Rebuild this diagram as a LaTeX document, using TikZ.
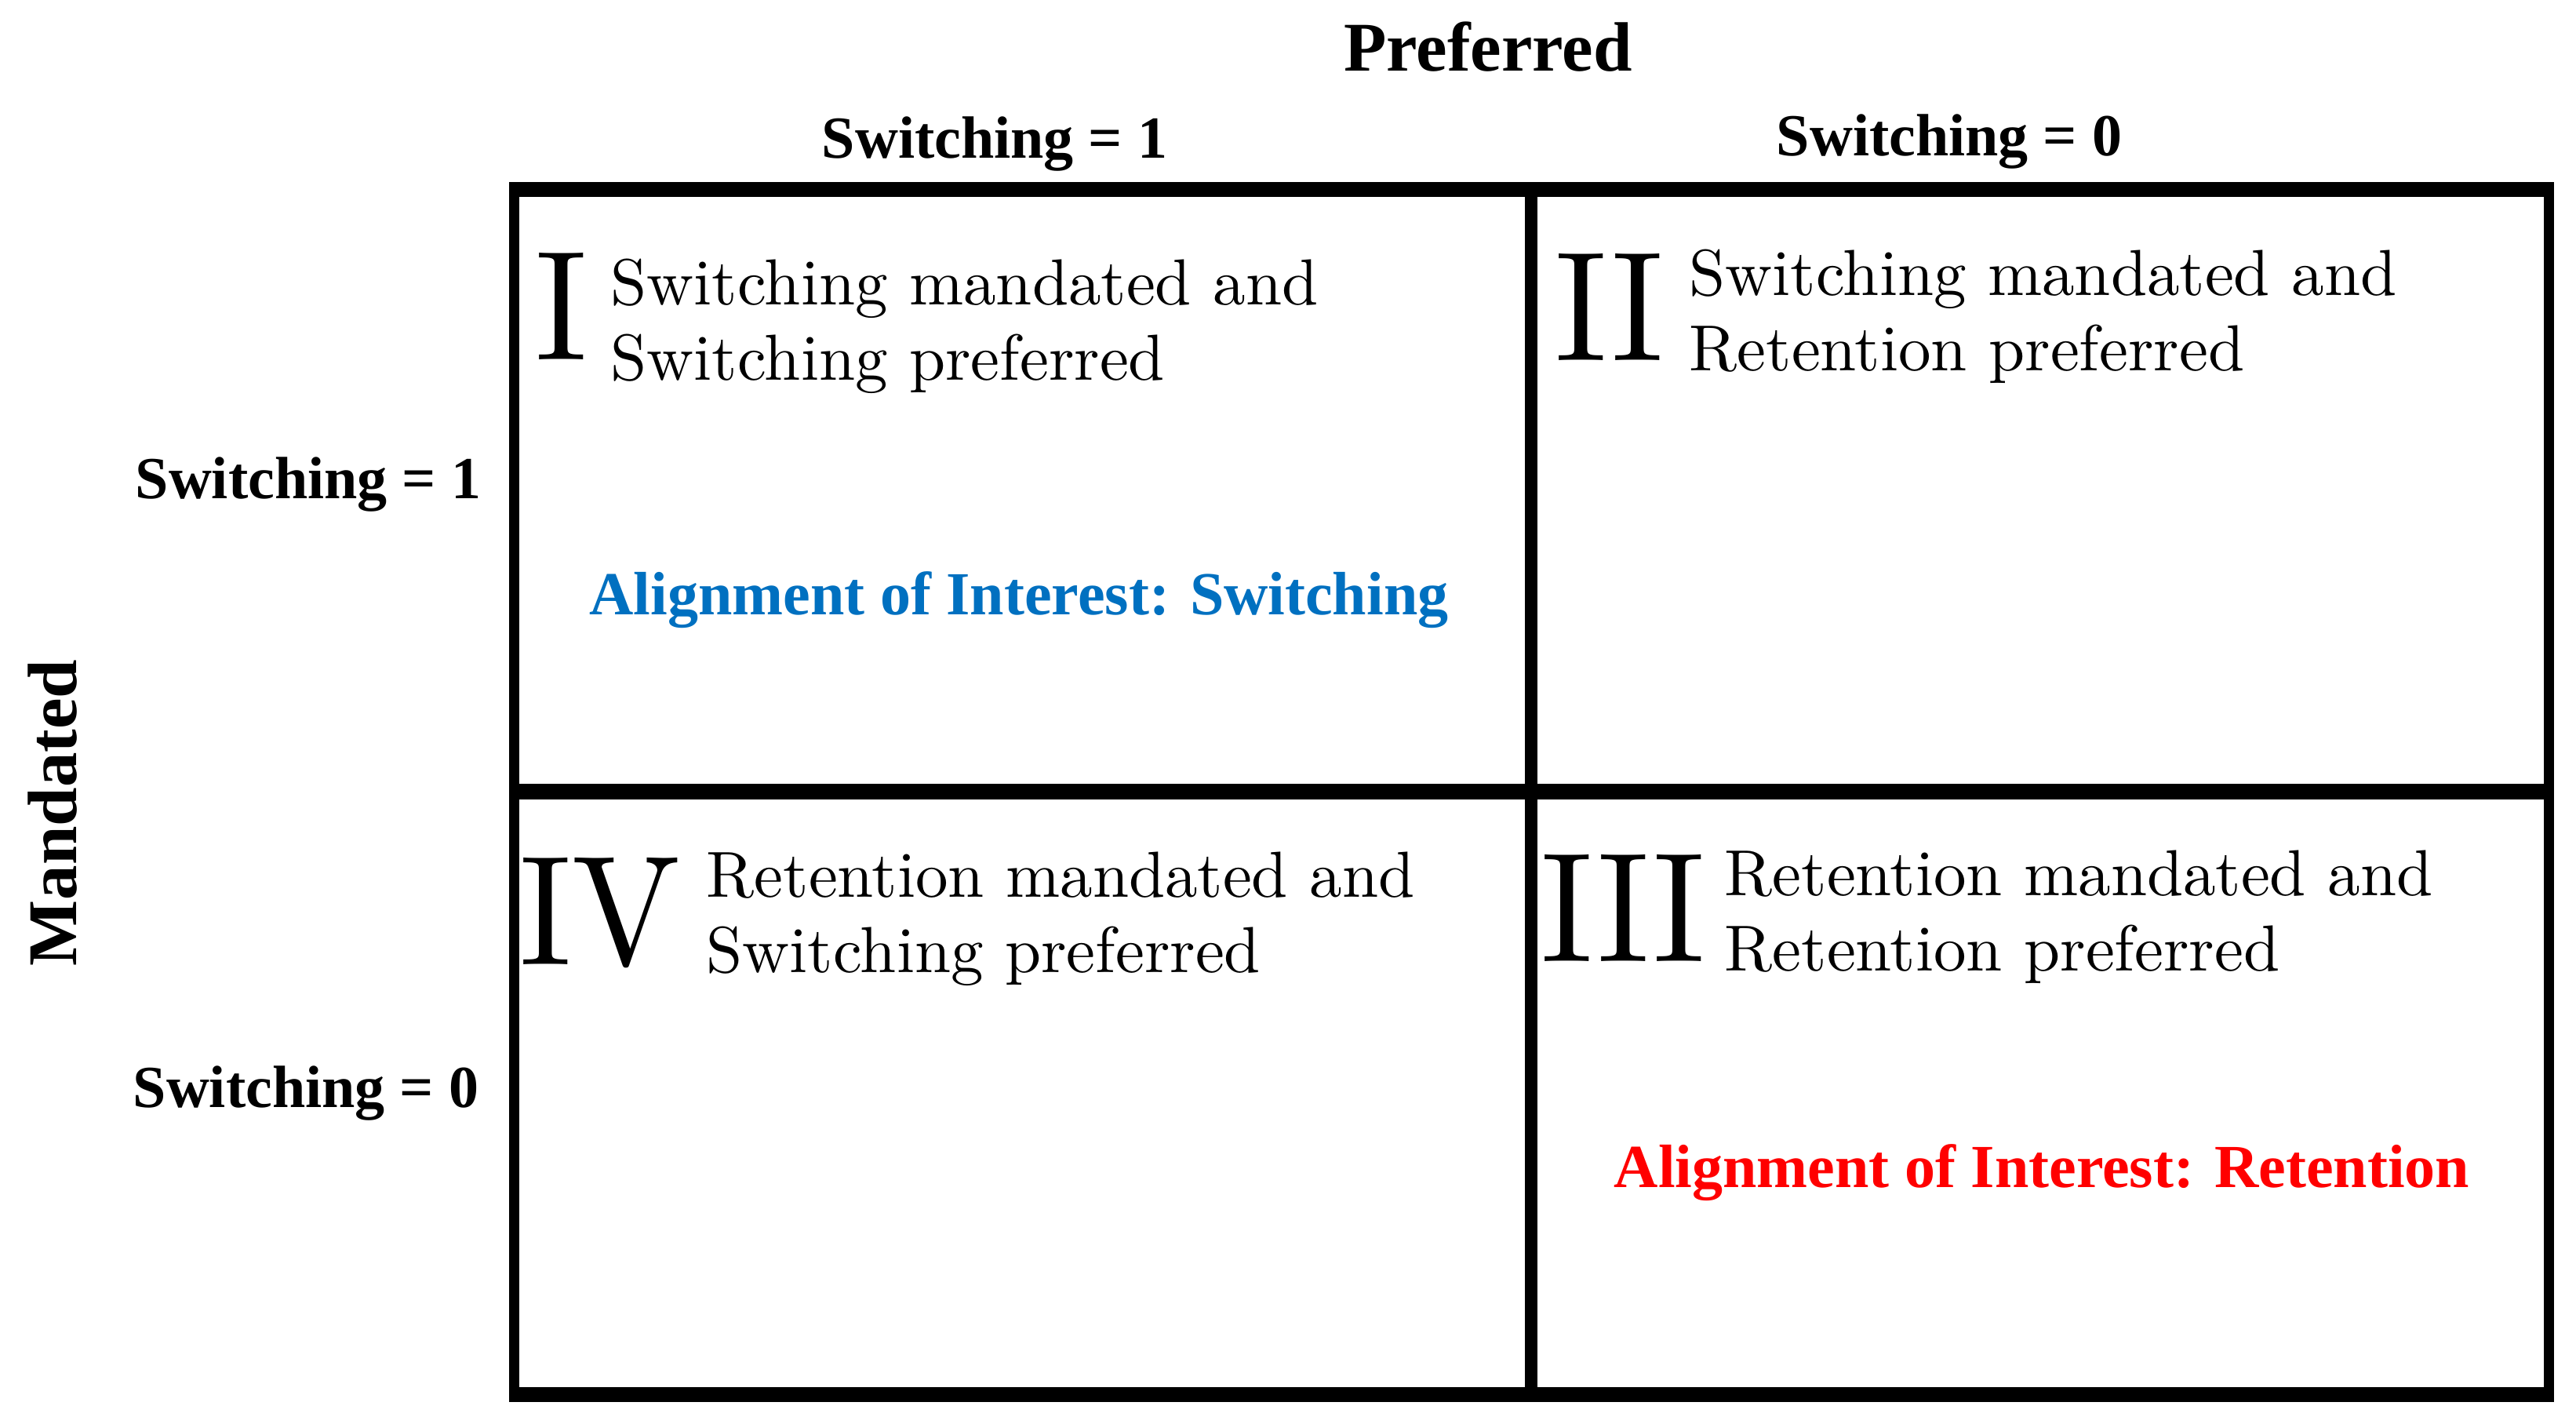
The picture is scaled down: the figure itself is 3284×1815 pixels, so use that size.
\documentclass[tikz,border=0pt]{standalone}
\usepackage{fontspec}
\usepackage{graphicx}
\newfontfamily\timesfont{Liberation Serif}
\definecolor{alignblue}{HTML}{0070C0}
\definecolor{alignred}{HTML}{FF0000}
\newcommand{\mycell}[2]{\scalebox{2.075}{\fontsize{10}{11.45}\selectfont\begin{tabular}[t]{@{}l@{}}#1\\#2\end{tabular}}}
\newcommand{\mynum}[1]{\scalebox{4.6}[4.98]{\fontsize{10}{12}\selectfont #1}}
\tikzset{
  gridline/.style={fill=black},
  hdr/.style={font=\timesfont\bfseries\fontsize{19}{22}\selectfont, inner sep=0pt, anchor=base},
  bighdr/.style={font=\timesfont\bfseries\fontsize{22.25}{26}\selectfont, inner sep=0pt, anchor=base},
  numeral/.style={inner sep=0pt, anchor=base west},
  celltext/.style={inner sep=0pt, anchor=base west},
  aligntext/.style={font=\timesfont\bfseries\fontsize{19.5}{23}\selectfont, inner sep=0pt, anchor=base},
}
\begin{document}
\begin{tikzpicture}[x=0.25pt,y=-0.25pt]
\useasboundingbox (0,0) rectangle (3284,1815);
% grid
\fill[gridline] (649.3,231.7) rectangle (3255.7,250.7);
\fill[gridline] (649.3,1768.3) rectangle (3255.7,1787.3);
\fill[gridline] (649.3,231.7) rectangle (661.7,1787.3);
\fill[gridline] (3242.7,231.7) rectangle (3255.7,1787.3);
\fill[gridline] (1944.3,231.7) rectangle (1960,1787.3);
\fill[gridline] (649.3,999.3) rectangle (3255.7,1018.7);
% headers
\node[bighdr] (pref) at (1897,91) {Preferred};
\node[hdr] (colA) at (1268,202) {Switching = 1};
\node[hdr] (colB) at (2485,199) {Switching = 0};
\node[bighdr, rotate=90] (mand) at (97,1036) {Mandated};
\node[hdr] (rowA) at (393,636) {Switching = 1};
\node[hdr] (rowB) at (390,1411) {Switching = 0};
% cells
\node[numeral] (nI) at (682,459) {\mynum{I}};
\node[celltext] (tI) at (778,389) {\mycell{Switching mandated and}{Switching preferred}};
\node[numeral] (nII) at (1982,460) {\mynum{II}};
\node[celltext] (tII) at (2153,377) {\mycell{Switching mandated and}{Retention preferred}};
\node[numeral] (nIII) at (1964,1225) {\mynum{III}};
\node[celltext] (tIII) at (2198,1142) {\mycell{Retention mandated and}{Retention preferred}};
\node[numeral] (nIV) at (662,1230) {\mynum{IV}};
\node[celltext] (tIV) at (900,1144) {\mycell{Retention mandated and}{Switching preferred}};
% alignment labels
\node[aligntext, text=alignblue] (alS) at (1299,784) {Alignment of Interest: Switching};
\node[aligntext, text=alignred] (alR) at (2603,1513) {Alignment of Interest: Retention};
\end{tikzpicture}
\end{document}
